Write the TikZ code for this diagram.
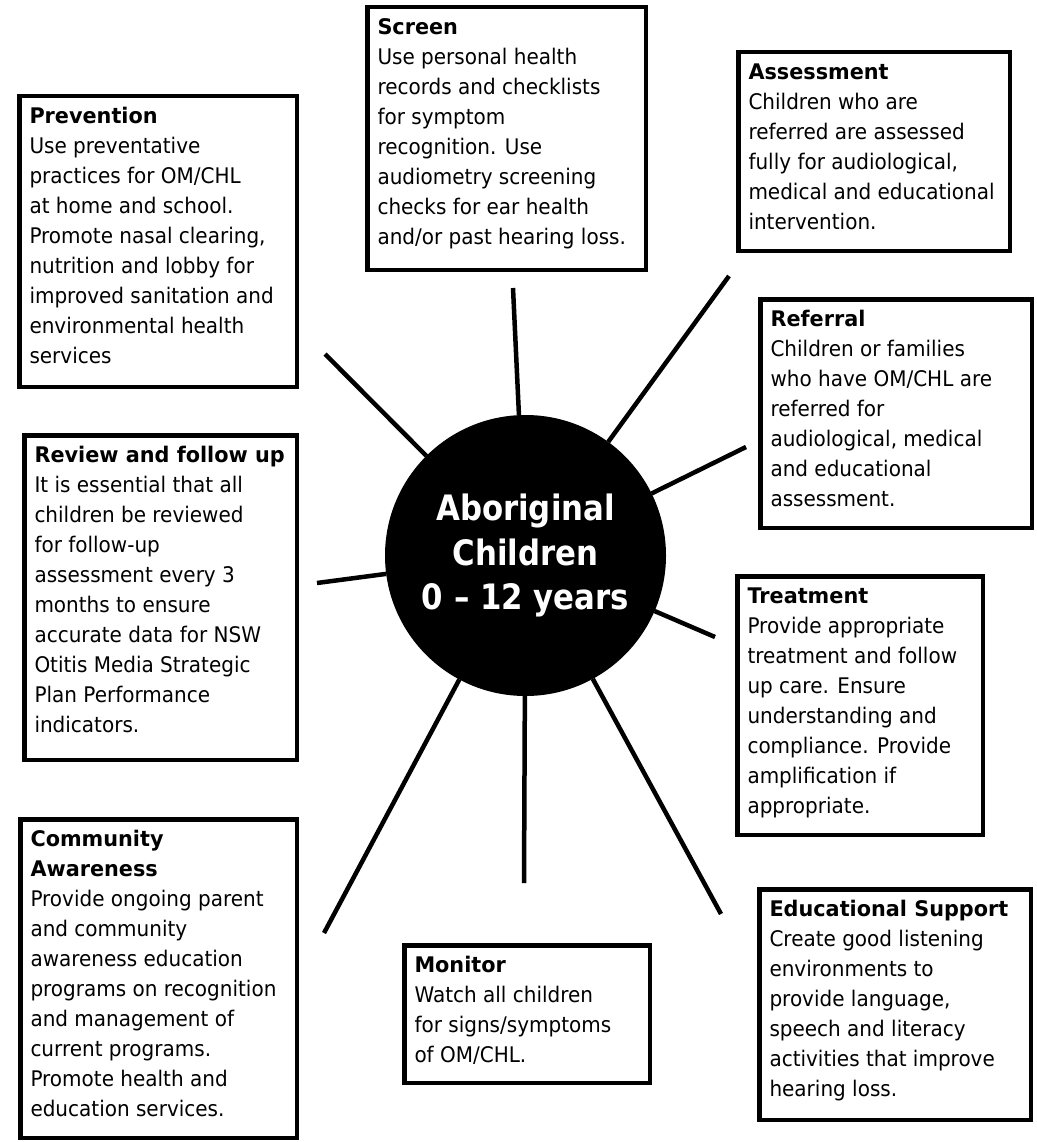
\documentclass[tikz,border=0pt]{standalone}
\usepackage{fontspec}
\setmainfont{DejaVu Sans}[UprightFeatures={FakeStretch=0.93},BoldFeatures={FakeStretch=0.967}]
\newfontfamily\hubfont{DejaVu Sans}[BoldFeatures={FakeStretch=0.88}]
\newcommand\myinfobox[6]{%
  \pgfmathsetmacro\bw{#4-#2-4.5}%
  \pgfmathsetmacro\bh{#5-#3-4.5}%
  \node[frame, minimum width=\bw pt, minimum height=\bh pt] (#1) at (#2+2.25,#3+2.25) {};
  \node[txt] (#1-text) at (#2+12.5,#3+29.5-18) {\rule{0pt}{18pt}#6};
}
\begin{document}
\begin{tikzpicture}[x=1pt,y=-1pt,
  frame/.style={draw=black, line width=4.5pt, inner sep=0pt, outer sep=0pt, anchor=north west},
  txt/.style={anchor=north west, inner sep=0pt, outer sep=0pt, align=left, text=black, font=\fontsize{21.5}{30}\selectfont},
  hubstyle/.style={circle, fill=black, inner sep=0pt, outer sep=0pt, minimum size=281pt, text=white, align=center, font=\hubfont\bfseries\fontsize{35}{44.5}\selectfont},
  spoke/.style={draw=black, line width=4.5pt}]
\useasboundingbox[fill=white] (0,0) rectangle (1036,1142);

\myinfobox{prevention}{17}{94}{299}{389}{\textbf{Prevention}\\Use preventative\\practices for OM/CHL\\at home and school.\\Promote nasal clearing,\\nutrition and lobby for\\improved sanitation and\\environmental health\\services}

\myinfobox{screen}{365}{5}{648}{272}{\textbf{Screen}\\Use personal health\\records and checklists\\for symptom\\recognition. Use\\audiometry screening\\checks for ear health\\and/or past hearing loss.}

\myinfobox{assessment}{736}{50}{1012}{253}{\textbf{Assessment}\\Children who are\\referred are assessed\\fully for audiological,\\medical and educational\\intervention.}

\myinfobox{referral}{758}{297}{1034}{530}{\textbf{Referral}\\Children or families\\who have OM/CHL are\\referred for\\audiological, medical\\and educational\\assessment.}

\myinfobox{review}{22}{433}{299}{762}{\textbf{Review and follow up}\\It is essential that all\\children be reviewed\\for follow-up\\assessment every 3\\months to ensure\\accurate data for NSW\\Otitis Media Strategic\\Plan Performance\\indicators.}

\myinfobox{treatment}{735}{574}{985}{837}{\textbf{Treatment}\\Provide appropriate\\treatment and follow\\up care. Ensure\\understanding and\\compliance. Provide\\amplification if\\appropriate.}

\myinfobox{community}{18}{817}{299}{1140}{\textbf{Community}\\\textbf{Awareness}\\Provide ongoing parent\\and community\\awareness education\\programs on recognition\\and management of\\current programs.\\Promote health and\\education services.}

\myinfobox{monitor}{402}{943}{652}{1085}{\textbf{Monitor}\\Watch all children\\for signs/symptoms\\of OM/CHL.}

\myinfobox{educational}{757}{887}{1033}{1122}{\textbf{Educational Support}\\Create good listening\\environments to\\provide language,\\speech and literacy\\activities that improve\\hearing loss.}

\node[hubstyle] (hub) at (525.5,555.5) {Aboriginal\\Children\\0 – 12 years};

\coordinate (e-prevention) at (325,354);
\coordinate (e-screen) at (513,288);
\coordinate (e-assessment) at (729,276);
\coordinate (e-referral) at (746,447);
\coordinate (e-review) at (317,583);
\coordinate (e-treatment) at (715,637);
\coordinate (e-community) at (324,933);
\coordinate (e-monitor) at (524,883);
\coordinate (e-educational) at (721,914);

\foreach \n in {prevention,screen,assessment,referral,review,treatment,community,monitor,educational}
  \draw[spoke] (hub) -- (e-\n);
\end{tikzpicture}
\end{document}
